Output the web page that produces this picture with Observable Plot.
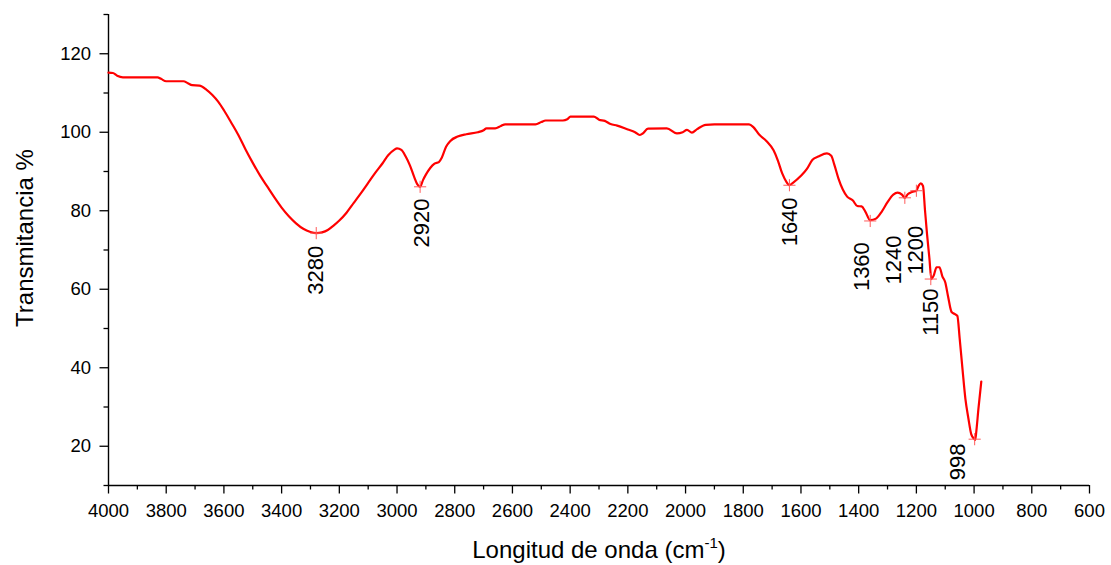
<!DOCTYPE html>
<html>
<head>
<meta charset="utf-8">
<script src="https://cdn.jsdelivr.net/npm/d3@7"></script>
<script src="https://cdn.jsdelivr.net/npm/@observablehq/plot@0.6"></script>
<style>
  html, body { margin: 0; padding: 0; background: #ffffff; }
  #chart { width: 1111px; height: 565px; }
</style>
</head>
<body>
<div id="chart"></div>
<script>
// Wavenumber (cm-1)
const wavenumber = [
  4000, 3985, 3970, 3950, 3830, 3818, 3800, 3740, 3725, 3710, 3685, 3660, 3640, 3620, 3600,
  3575, 3550, 3525, 3500, 3475, 3450, 3425, 3400, 3375, 3350, 3325, 3300, 3280, 3260, 3240,
  3220, 3200, 3175, 3150, 3125, 3100, 3075, 3050, 3030, 3010, 3000, 2985, 2970, 2955, 2940,
  2930, 2920, 2910, 2900, 2885, 2870, 2855, 2845, 2830, 2815, 2790, 2760, 2720, 2700, 2690,
  2660, 2640, 2625, 2520, 2500, 2485, 2425, 2410, 2399, 2318, 2300, 2280, 2260, 2237, 2200,
  2175, 2159, 2150, 2130, 2065, 2030, 2010, 1995, 1978, 1960, 1930, 1900, 1780, 1765, 1745,
  1720, 1695, 1680, 1665, 1650, 1640, 1630, 1600, 1580, 1560, 1540, 1510, 1495, 1485, 1470,
  1455, 1440, 1420, 1405, 1390, 1377, 1360, 1340, 1320, 1300, 1280, 1265, 1250, 1240, 1230,
  1215, 1200, 1192, 1185, 1177, 1170, 1163, 1155, 1148, 1140, 1130, 1120, 1110, 1100, 1090,
  1078, 1065, 1058, 1050, 1040, 1030, 1020, 1010, 1000, 996, 992, 985, 975
];
// Transmittance (%)
const transmittance = [
  115.2, 115.1, 114.4, 114, 114, 113.6, 113, 113, 112.5, 112, 111.9, 110.8, 109.5, 107.8, 105.6,
  102.5, 99.3, 95.6, 92.2, 89, 86.2, 83.4, 80.8, 78.6, 76.8, 75.4, 74.6, 74.3, 74.5, 75.1,
  76.2, 77.5, 79.5, 82, 84.5, 87.1, 89.7, 92.1, 94.2, 95.5, 95.9, 95.5, 93.8, 91.5, 88.5,
  86.8, 86.1, 87.8, 89.2, 90.9, 92.0, 92.4, 93.5, 96.3, 97.8, 98.9, 99.5, 100, 100.5, 101,
  101, 101.6, 102, 102, 102.6, 103, 103, 103.3, 104, 104, 103.2, 102.9, 102.1, 101.7, 100.7,
  100, 99.3, 99.6, 100.9, 101, 99.7, 100, 100.6, 99.9, 100.8, 101.9, 102, 102, 101.3, 99.4,
  97.8, 95.4, 92.8, 89.5, 87.3, 86.5, 87, 88.9, 90.6, 93, 93.8, 94.6, 94, 91.9, 88.2,
  85.4, 83.6, 82.6, 81.2, 81.1, 79.8, 77.6, 78, 79.8, 82.2, 84.1, 84.6, 84.1, 83.3, 84.2,
  84.8, 85.1, 86.4, 87, 86.3, 80, 74, 68, 62.6, 63.5, 65.6, 65.6, 63.3, 61.8, 58.1,
  54.2, 53.6, 53.2, 47.5, 39.5, 32, 27.2, 23.1, 21.9, 21.6, 24, 29.5, 36.5
];

// Marked peaks
const peakWavenumber = [3280, 2920, 1640, 1360, 1240, 1200, 1150, 998];
const peakValue      = [74.3, 86.1, 86.5, 77.4, 83.3, 85.1, 62.6, 21.8];
const peakLabel      = ["3280", "2920", "1640", "1360", "1240", "1200", "1150", "998"];
// where each label's upper end sits (data units)
const labelWavenumber = [3281, 2915, 1639, 1388, 1278, 1202, 1149, 1057];
const labelTop        = [71.1, 83.1, 83.4, 72.0, 73.7, 76.2, 60.2, 20.7];

// Axis ticks
const xMajorTicks = d3.range(600, 4001, 200);
const xMinorTicks = d3.range(700, 4000, 200);
const yMajorTicks = [20, 40, 60, 80, 100, 120];
const yMinorTicks = [10, 30, 50, 70, 90, 110, 130];

const xLabel = "Longitud de onda (cm-1)";
const yLabel = "Transmitancia %";

const spectrum = wavenumber.map((w, i) => ({w, t: transmittance[i]}));
const peaks = peakWavenumber.map((w, i) => ({
  w, t: peakValue[i], label: peakLabel[i], lw: labelWavenumber[i], lt: labelTop[i]
}));

const chart = Plot.plot({
  width: 1111,
  height: 565,
  marginLeft: 108,
  marginRight: 22,
  marginTop: 14,
  marginBottom: 80,
  style: {
    fontFamily: "'Liberation Sans', Arial, sans-serif",
    fontSize: "18.5px",
    color: "#000",
    background: "#fff",
    overflow: "visible"
  },
  x: {domain: [4000, 600]},
  y: {domain: [10, 130]},
  marks: [
    Plot.axisX({ticks: xMinorTicks, tickSize: 4.5, strokeWidth: 1.3, text: null, label: null}),
    Plot.axisX({
      ticks: xMajorTicks, tickSize: 8.5, tickPadding: 10, strokeWidth: 1.3,
      tickFormat: d3.format("d"), label: null
    }),
    Plot.axisY({ticks: yMinorTicks, tickSize: 4.5, strokeWidth: 1.3, text: null, label: null}),
    Plot.axisY({
      ticks: yMajorTicks, tickSize: 8.5, tickPadding: 9, strokeWidth: 1.3,
      tickFormat: d3.format("d"), label: null
    }),
    Plot.ruleX([4000], {stroke: "#000", strokeWidth: 1.4}),
    Plot.ruleY([10], {stroke: "#000", strokeWidth: 1.4}),
    Plot.text([xLabel], {
      frameAnchor: "bottom", textAnchor: "middle", lineAnchor: "bottom",
      dy: 72, fontSize: 24, fill: "#000"
    }),
    Plot.text([yLabel], {
      frameAnchor: "left", textAnchor: "middle", lineAnchor: "middle", rotate: -90,
      dx: -83, dy: -12, fontSize: 24, fill: "#000"
    }),
    Plot.line(spectrum, {x: "w", y: "t", stroke: "#ff0000", strokeWidth: 2.2, curve: "monotone-x"}),
    Plot.dot(peaks, {x: "w", y: "t", symbol: "plus", r: 4, stroke: "#ff5a5a", strokeWidth: 1}),
    Plot.text(peaks, {
      x: "lw", y: "lt", text: "label", rotate: -90,
      textAnchor: "end", lineAnchor: "middle",
      fontSize: 22, fill: "#000"
    })
  ]
});

// Superscript for the x-axis title unit
chart.querySelectorAll("text").forEach(t => {
  if (t.textContent === xLabel) {
    const ns = "http://www.w3.org/2000/svg";
    t.textContent = "";
    const a = document.createElementNS(ns, "tspan");
    a.textContent = "Longitud de onda (cm";
    const b = document.createElementNS(ns, "tspan");
    b.textContent = "-1";
    b.setAttribute("font-size", "15px");
    b.setAttribute("dy", "-10");
    const c = document.createElementNS(ns, "tspan");
    c.textContent = ")";
    c.setAttribute("dy", "10");
    t.append(a, b, c);
  }
});

document.getElementById("chart").appendChild(chart);
</script>
</body>
</html>
